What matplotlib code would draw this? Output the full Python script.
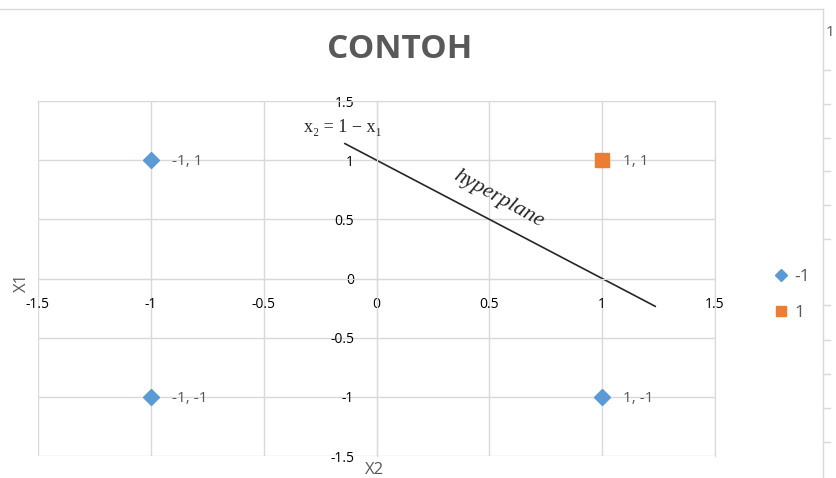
import matplotlib
matplotlib.use('Agg')
import matplotlib.pyplot as plt
from matplotlib.lines import Line2D

# data
neg_x = [-1, 1, -1]
neg_y = [1, -1, -1]
neg_labels = ['-1, 1', '1, -1', '-1, -1']
pos_x = [1]
pos_y = [1]
pos_labels = ['1, 1']
hyper_x = [-0.14, 1.235]
hyper_y = [1 - v for v in hyper_x]
ticks = [-1.5, -1, -0.5, 0, 0.5, 1, 1.5]
tick_labels = ['-1.5', '-1', '-0.5', '0', '0.5', '1', '1.5']

grid_c = '#d9d9d9'
text_c = '#595959'
blue = '#5b9bd5'
orange = '#ed7d31'

plt.rcParams['font.family'] = ['Open Sans', 'DejaVu Sans']

fig = plt.figure(figsize=(8.37, 4.78), dpi=100)
ax = fig.add_axes([38 / 837, 1 - 456 / 478, 677 / 837, 355 / 478])

ax.set_xlim(-1.5, 1.5)
ax.set_ylim(-1.5, 1.5)
ax.set_xticks(ticks)
ax.set_yticks(ticks)
ax.set_xticklabels(tick_labels, fontsize=14, color=text_c, family='DejaVu Sans')
ax.set_yticklabels(tick_labels, fontsize=13, color=text_c)
ax.tick_params(length=0)
ax.tick_params(axis='x', pad=13)
ax.tick_params(axis='y', pad=16)
ax.grid(True, color=grid_c, linewidth=1)
ax.set_axisbelow(True)
for name, sp in ax.spines.items():
    sp.set_color(grid_c)
ax.spines['left'].set_position('zero')
ax.spines['bottom'].set_position('zero')

ax.plot(neg_x, neg_y, 'D', color=blue, markersize=8, linestyle='none', label='-1', zorder=3)
ax.plot(pos_x, pos_y, 's', color=orange, markersize=10, linestyle='none', label='1', zorder=3)
for x, y, s in zip(neg_x, neg_y, neg_labels):
    ax.annotate(s, (x, y), xytext=(15, -1), textcoords='offset points',
                ha='left', va='center', fontsize=11, color=text_c)
for x, y, s in zip(pos_x, pos_y, pos_labels):
    ax.annotate(s, (x, y), xytext=(15, -1), textcoords='offset points',
                ha='left', va='center', fontsize=11, color=text_c)

ax.plot(hyper_x, hyper_y, color='#262626', linewidth=1.2, zorder=2)
ax.text(-0.15, 1.28, 'x\u2082 = 1 \u2212 x\u2081', fontsize=13,
        family=['Liberation Serif', 'DejaVu Serif'],
        ha='center', va='center', color='#262626')
ax.text(0.54, 0.67, 'hyperplane', fontsize=16,
        family=['Liberation Serif', 'DejaVu Serif'], style='italic',
        rotation=-29, rotation_mode='anchor', ha='center', va='center', color='#262626')

fig.text(400 / 837, 1 - 50 / 478, 'CONTOH', fontsize=24, fontweight='bold',
         color=text_c, ha='center', va='center')
fig.text(22 / 837, 1 - 283 / 478, 'X1', fontsize=12, rotation=90, color=text_c,
         ha='center', va='center')
fig.text(375 / 837, 1 - 470 / 478, 'X2', fontsize=12, color=text_c, ha='center', va='center')

handles = [Line2D([], [], marker='D', color=blue, linestyle='none', markersize=6),
           Line2D([], [], marker='s', color=orange, linestyle='none', markersize=7)]
fig.legend(handles, ['-1', '1'], loc='center left', bbox_to_anchor=(758 / 837, 1 - 295 / 478),
           frameon=False, fontsize=12.5, labelcolor=text_c, handlelength=0.8,
           handletextpad=0.4, labelspacing=1.1)

# chart frame and neighbouring chart edge
fig.add_artist(Line2D([0, 823 / 837], [1 - 9 / 478, 1 - 9 / 478], color=grid_c, linewidth=1))
fig.add_artist(Line2D([823 / 837, 823 / 837], [0, 1 - 9 / 478], color=grid_c, linewidth=1))
for py in [70, 104, 138, 171, 205, 239, 305, 340, 374, 408, 442]:
    fig.add_artist(Line2D([823 / 837, 830 / 837], [1 - py / 478, 1 - py / 478],
                          color=grid_c, linewidth=1))
fig.text(826 / 837, 1 - 33 / 478, '1', fontsize=11, color=text_c, ha='left', va='center')

fig.savefig('out.png', dpi=100)
